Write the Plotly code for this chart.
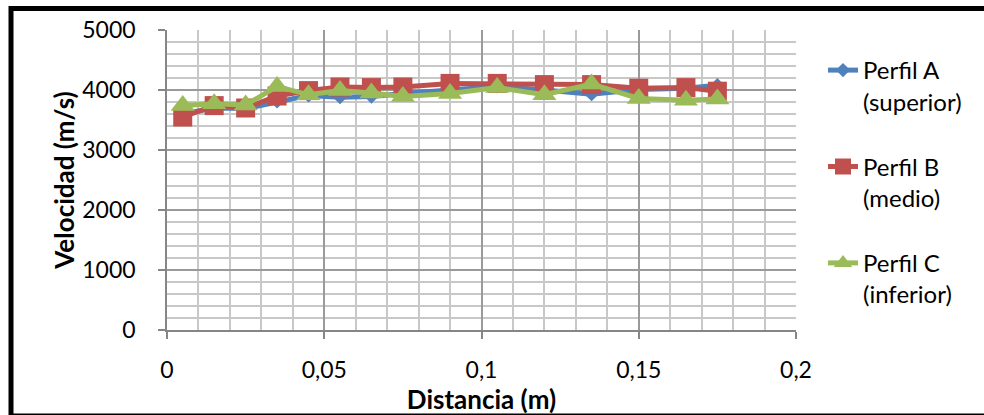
import plotly.graph_objects as go

distancia = [0.005, 0.015, 0.025, 0.035, 0.045, 0.055, 0.065, 0.075, 0.09,
             0.105, 0.12, 0.135, 0.15, 0.165, 0.175]
perfil_a = [3600, 3700, 3690, 3810, 3910, 3880, 3890, 3940, 3990,
            4060, 4000, 3930, 4010, 4030, 4080]
perfil_b = [3550, 3740, 3700, 3900, 3990, 4050, 4040, 4050, 4110,
            4110, 4090, 4090, 4030, 4040, 3980]
perfil_c = [3740, 3770, 3750, 4060, 3920, 3990, 3950, 3890, 3940,
            4040, 3920, 4100, 3860, 3830, 3850]

names = ["Perfil A<br>(superior)", "Perfil B<br>(medio)", "Perfil C<br>(inferior)"]
colors = ["#4F81BD", "#C0504D", "#9BBB59"]
symbols = ["diamond", "square", "triangle-up"]
sizes = [11, 19, 21]
series = [perfil_a, perfil_b, perfil_c]

FONT = "Lato"
TICK = 23
TITLE = 26
LEG = 24

fig = go.Figure()
for i in range(3):
    fig.add_trace(go.Scatter(
        x=distancia, y=series[i], name=names[i], mode="lines+markers",
        legendgroup=f"g{i}",
        line=dict(color=colors[i], width=5),
        marker=dict(symbol=symbols[i], size=sizes[i], color=colors[i],
                    line=dict(width=0)),
    ))

W, H = 984, 415
L, R, T, B = 167, 188, 30, 85
pw, ph = W - L - R, H - T - B

def px_x(p):
    return (p - L) / pw

def px_y(p):
    return (H - B - p) / ph

fig.update_layout(
    width=W, height=H,
    margin=dict(l=L, r=R, t=T, b=B, autoexpand=False),
    paper_bgcolor="white", plot_bgcolor="white",
    separators=",.",
    font=dict(family=FONT, size=TICK, color="black"),
    showlegend=True,
    legend=dict(x=px_x(823), y=px_y(48), xanchor="left", yanchor="top",
                valign="top", tracegroupgap=31,
                font=dict(family=FONT, size=LEG, color="black"),
                bgcolor="rgba(0,0,0,0)", itemwidth=30),
    xaxis=dict(range=[0, 0.2], dtick=0.05, tick0=0, automargin=False,
               showline=True, linecolor="#868686", linewidth=1.5,
               ticks="outside", ticklen=7, tickcolor="#868686", tickwidth=1.5,
               ticklabelstandoff=12,
               showgrid=True, gridcolor="#9a9a9a", gridwidth=1.5,
               zeroline=False,
               minor=dict(dtick=0.01, showgrid=True, gridcolor="#c8c8c8",
                          gridwidth=1.5, ticks=""),
               title=dict(text="<b>Distancia (m)</b>", standoff=8,
                          font=dict(family=FONT, size=TITLE)),
               tickfont=dict(family=FONT, size=TICK)),
    yaxis=dict(range=[0, 5000], dtick=1000, tick0=0, automargin=False,
               showline=True, linecolor="#868686", linewidth=1.5,
               ticks="outside", ticklen=7, tickcolor="#868686", tickwidth=1.5,
               ticklabelstandoff=18,
               showgrid=True, gridcolor="#9a9a9a", gridwidth=1.5,
               zeroline=False,
               minor=dict(dtick=200, showgrid=True, gridcolor="#c8c8c8",
                          gridwidth=1.5, ticks=""),
               title=dict(text="<b>Velocidad (m/s)</b>", standoff=0,
                          font=dict(family=FONT, size=TITLE)),
               tickfont=dict(family=FONT, size=TICK)),
    shapes=[dict(type="rect", xref="paper", yref="paper",
                 x0=px_x(11), x1=px_x(995), y0=px_y(416), y1=px_y(8.5),
                 line=dict(color="black", width=5), fillcolor="rgba(0,0,0,0)",
                 layer="above")],
)

fig.write_html("out.html")
